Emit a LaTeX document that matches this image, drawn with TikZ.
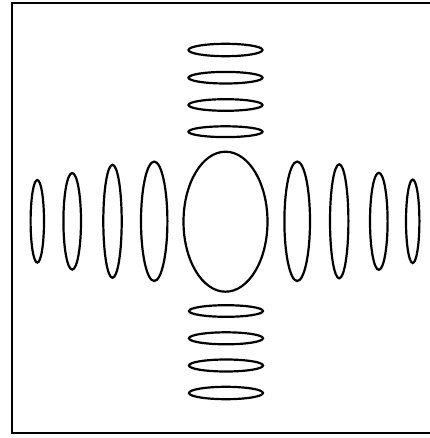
\documentclass[tikz,border=0pt]{standalone}
\usepackage{tikz}

\begin{document}
\begin{tikzpicture}[x=1pt, y=-1pt]
\tikzstyle{frame}=[line width=2pt, draw=black]
\tikzstyle{lobe}=[line width=2.2pt, draw=black]

\useasboundingbox (0,0) rectangle (429,438);

% open frame (right side runs off the page)
\draw[frame] (432,3.5) -- (11.5,3.5) -- (11.5,432.7) -- (432,432.7);

% central spot
\draw[lobe] (225.5,221.7) ellipse [x radius=42, y radius=70];

% vertical row of flat lobes, above and below
\foreach \yc/\ry in {50/6.2, 77.7/5.8, 105/5.8, 131.7/5.4}
  \draw[lobe] (225.5,\yc) ellipse [x radius=37, y radius=\ry];
\foreach \yc/\ry in {311/5.8, 338.3/6, 365.5/6, 393/6.2}
  \draw[lobe] (226,\yc) ellipse [x radius=37, y radius=\ry];

% horizontal row of tall lobes, left and right
\foreach \xc/\rx/\ry in {37.3/6.7/41.3, 72.2/8.8/48.3, 112.5/9.2/56.5, 154.2/13.2/59.7,
                         297.2/12.8/59.7, 339.2/9.2/57, 378.8/8.8/48.5, 412.7/6.7/41.7}
  \draw[lobe] (\xc,221.3) ellipse [x radius=\rx, y radius=\ry];
\end{tikzpicture}
\end{document}
